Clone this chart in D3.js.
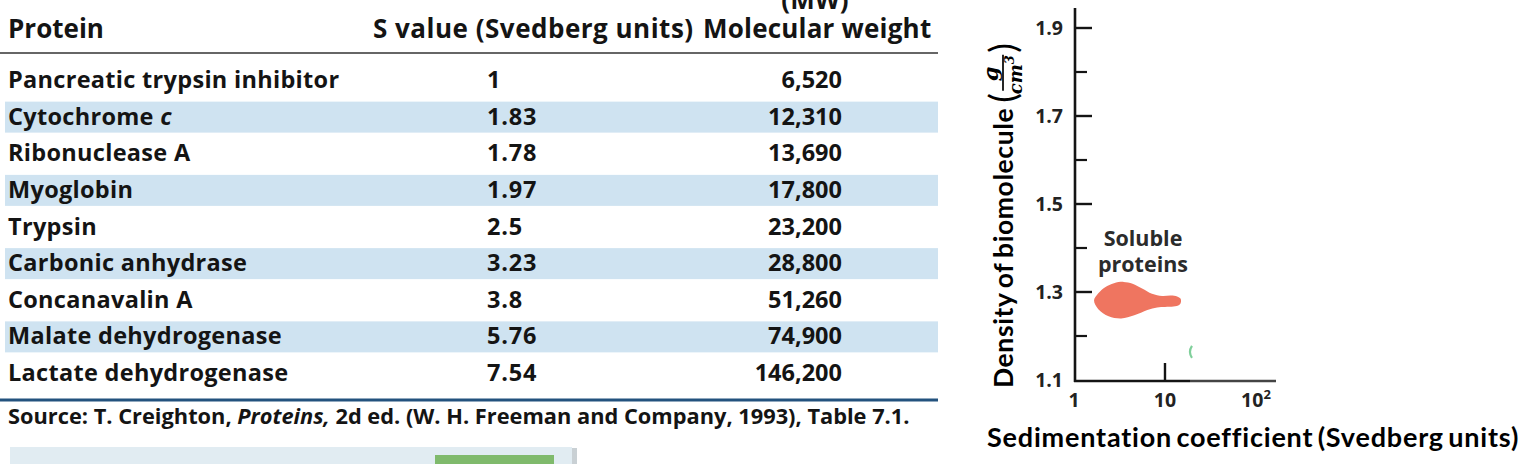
<!DOCTYPE html>
<html><head><meta charset="utf-8">
<script src="https://cdn.jsdelivr.net/npm/d3@7"></script>
<style>
html,body{margin:0;padding:0;background:#fff;}
svg{display:block;}
</style></head>
<body>
<svg id="c" width="1528" height="464"></svg>
<script>
// ---------- DATA ----------
const proteins = ["Pancreatic trypsin inhibitor","Cytochrome c","Ribonuclease A","Myoglobin","Trypsin","Carbonic anhydrase","Concanavalin A","Malate dehydrogenase","Lactate dehydrogenase"];
const sValues = ["1","1.83","1.78","1.97","2.5","3.23","3.8","5.76","7.54"];
const molWeights = [6520,12310,13690,17800,23200,28800,51260,74900,146200];
const headers = ["Protein","S value (Svedberg units)","Molecular weight"];
const yTicks = [1.1,1.3,1.5,1.7,1.9];
const yMinorTicks = [1.2,1.4,1.6,1.8];
const xTickValues = [1,10,100];
const xMajorTick = [10];
// blob outline "Soluble proteins": [S value, density]
const blobS = [1.66,1.85,2.2,2.75,3.5,4.4,5.6,7.2,9.3,11.6,13.6,14.8,15.0,14.4,12.4,10.0,8.2,6.4,4.6,3.3,2.4,1.85];
const blobD = [1.281,1.297,1.311,1.320,1.323,1.319,1.308,1.296,1.291,1.292,1.290,1.285,1.278,1.271,1.267,1.266,1.265,1.259,1.247,1.240,1.245,1.261];
const greenS = [19.3], greenD = [1.164];

// ---------- SETUP ----------
const svg = d3.select("#c");
const INK = "#141414";
const tableFont = "'Open Sans', sans-serif";
const titleFont = "Lato, sans-serif";

// ---------- TABLE ----------
const rowY = d3.scaleLinear().domain([0, proteins.length-1]).range([88, 381]);
const tbl = svg.append("g");

// bands
tbl.selectAll("rect.band").data(proteins.map((p,i)=>i).filter(i=>i%2===1)).join("rect")
  .attr("x",5).attr("width",933)
  .attr("y",i=>rowY(i)-23).attr("height",31)
  .attr("fill","#cfe3f1");

// header
const hd = tbl.append("g");
hd.append("text").attr("x",8).attr("y",38).text(headers[0]);
hd.append("text").attr("x",373).attr("y",38).attr("letter-spacing",0.5).text(headers[1]);
hd.append("text").attr("x",703).attr("y",38).attr("letter-spacing",0.2).text(headers[2]);
hd.append("text").attr("x",815).attr("y",9).attr("text-anchor","middle").text("(MW)");
hd.selectAll("text").attr("font-family",tableFont).attr("font-weight",700)
  .attr("font-size",26).attr("fill",INK);
tbl.append("line").attr("x1",0).attr("x2",938).attr("y1",53).attr("y2",53)
  .attr("stroke","#333").attr("stroke-width",1.6);

// rows
const rows = tbl.selectAll("g.row").data(proteins).join("g")
  .attr("transform",(d,i)=>`translate(0,${rowY(i)})`);
rows.append("text").attr("x",8).attr("letter-spacing",0.3).each(function(d){
  const t = d3.select(this);
  if (d.endsWith(" c")) { t.text(d.slice(0,-1)); t.append("tspan").attr("font-style","italic").text("c"); }
  else t.text(d);
});
rows.append("text").attr("x",487).attr("letter-spacing",0.8).text((d,i)=>sValues[i]);
rows.append("text").attr("x",842).attr("text-anchor","end").text((d,i)=>d3.format(",")(molWeights[i]));
rows.selectAll("text").attr("font-family",tableFont).attr("font-weight",700)
  .attr("font-size",23.5).attr("fill",INK);

// bottom rule + source
tbl.append("rect").attr("x",0).attr("width",938).attr("y",398.5).attr("height",3).attr("fill","#23527e");
const src = tbl.append("text").attr("x",8).attr("y",424)
  .attr("font-family",tableFont).attr("font-weight",700).attr("font-size",21.8).attr("fill",INK);
src.append("tspan").text("Source: T. Creighton, ");
src.append("tspan").attr("font-style","italic").text("Proteins,");
src.append("tspan").text(" 2d ed. (W. H. Freeman and Company, 1993), Table 7.1.");

// bottom panel
svg.append("rect").attr("x",13).attr("y",448).attr("width",564).attr("height",20).attr("fill","#c9d0d4");
svg.append("rect").attr("x",10).attr("y",447).attr("width",562).attr("height",20).attr("fill","#e1ecf2");
svg.append("rect").attr("x",435).attr("y",455).attr("width",119).attr("height",12).attr("fill","#7fba6c");

// ---------- CHART ----------
const y = d3.scaleLinear().domain([1.1,1.9]).range([380,28]);
const x = d3.scaleLog().domain([1,166]).range([1074,1276]);
const ch = svg.append("g");

// blob
const pts = blobS.map((s,i)=>[x(s), y(blobD[i])]);
ch.append("path").attr("d", d3.line().curve(d3.curveCatmullRomClosed.alpha(0.5))(pts))
  .attr("fill","#ef7560");
// faint leftover green mark
ch.selectAll("path.gm").data(greenS).join("path")
  .attr("d",(s,i)=>{const cx=x(s), cy=y(greenD[i]); return `M${cx+1},${cy-6} Q${cx-3},${cy} ${cx+1},${cy+6}`;})
  .attr("fill","none").attr("stroke","#7fcf9a").attr("stroke-width",2.2);

// y axis
ch.append("line").attr("x1",1075).attr("x2",1075).attr("y1",8).attr("y2",382)
  .attr("stroke",INK).attr("stroke-width",2.6);
ch.selectAll("line.maj").data(yTicks.filter(v=>v>1.1)).join("line")
  .attr("x1",1075).attr("x2",1092).attr("y1",d=>y(d)).attr("y2",d=>y(d))
  .attr("stroke",INK).attr("stroke-width",2.4);
ch.selectAll("line.min").data(yMinorTicks).join("line")
  .attr("x1",1075).attr("x2",1087).attr("y1",d=>y(d)).attr("y2",d=>y(d))
  .attr("stroke",INK).attr("stroke-width",2.2);
ch.selectAll("text.yt").data(yTicks).join("text")
  .attr("x",1063).attr("y",d=>y(d)+7).attr("text-anchor","end")
  .attr("font-family",tableFont).attr("font-weight",700).attr("font-size",19.5).attr("fill","#222")
  .text(d=>d3.format(".1f")(d));

// x axis
ch.append("line").attr("x1",1074).attr("x2",1190).attr("y1",381).attr("y2",381)
  .attr("stroke",INK).attr("stroke-width",2.6);
ch.append("line").attr("x1",1190).attr("x2",1276).attr("y1",381).attr("y2",381)
  .attr("stroke","#444").attr("stroke-width",2.6);
ch.selectAll("line.xt").data(xMajorTick).join("line")
  .attr("x1",d=>x(d)).attr("x2",d=>x(d)).attr("y1",363).attr("y2",381)
  .attr("stroke",INK).attr("stroke-width",2.4);
const xl = ch.selectAll("text.xt").data(xTickValues).join("text")
  .attr("x",d=>x(d)).attr("y",407).attr("text-anchor","middle")
  .attr("font-family",tableFont).attr("font-weight",700).attr("font-size",19.5).attr("fill","#222");
xl.each(function(d){
  const t=d3.select(this);
  if (d>=100){ t.text("10"); t.append("tspan").attr("dy",-8).attr("font-size",13).text(String(Math.round(Math.log10(d)))); }
  else t.text(String(d));
});

// soluble proteins label
const sl = ch.append("text").attr("text-anchor","middle")
  .attr("font-family",tableFont).attr("font-weight",700).attr("font-size",21.5).attr("fill","#2b2b2b");
sl.append("tspan").attr("x",1143).attr("y",246).text("Soluble");
sl.append("tspan").attr("x",1143).attr("y",272).text("proteins");

// x title
ch.append("text").attr("x",987).attr("y",447)
  .attr("font-family",titleFont).attr("font-weight",700).attr("font-size",27).attr("fill","#000")
  .attr("letter-spacing",0.8).attr("word-spacing",-3)
  .text("Sedimentation coefficient (Svedberg units)");

// y title (rotated)
const yt = ch.append("g").attr("transform","translate(1013,388) rotate(-90)");
const main = yt.append("text").attr("x",0).attr("y",0)
  .attr("font-family",titleFont).attr("font-weight",700).attr("font-size",26.5).attr("fill","#000")
  .attr("letter-spacing",0.6).attr("word-spacing",-2)
  .text("Density of biomolecule");
const L = main.node().getComputedTextLength();
yt.append("text").attr("x",L+5).attr("y",3).attr("font-family",titleFont).attr("font-size",36).attr("fill","#000").text("(");
const fx = L + 17;
yt.append("text").attr("x",fx+17).attr("y",-15).attr("text-anchor","middle")
  .attr("font-family","'DejaVu Serif', serif").attr("font-style","italic").attr("font-weight",700).attr("font-size",21).text("g");
yt.append("line").attr("x1",fx).attr("x2",fx+36).attr("y1",-10).attr("y2",-10).attr("stroke","#000").attr("stroke-width",1.7);
const den = yt.append("text").attr("x",fx+16).attr("y",9).attr("text-anchor","middle")
  .attr("font-family","'DejaVu Serif', serif").attr("font-style","italic").attr("font-weight",700).attr("font-size",18);
den.append("tspan").text("cm");
den.append("tspan").attr("dy",-8).attr("font-size",13).text("3");
yt.append("text").attr("x",fx+38).attr("y",3).attr("font-family",titleFont).attr("font-size",36).attr("fill","#000").text(")");
</script>
</body></html>
